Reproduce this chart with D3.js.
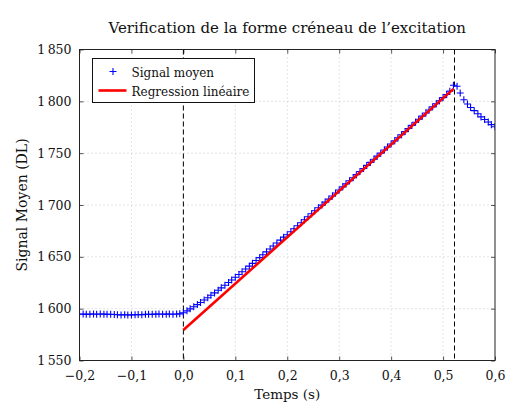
<!DOCTYPE html>
<html>
<head>
<meta charset="utf-8">
<script src="https://cdn.jsdelivr.net/npm/d3@7"></script>
<style>
    body { margin: 0; background: #ffffff; }
    svg text { font-family: "DejaVu Serif", serif; fill: #111111; }
</style>
</head>
<body>
<div id="chart"></div>
<script>
// Temps (s)
const temps = [
    -0.200, -0.193, -0.187, -0.180, -0.173, -0.167, -0.160, -0.153, -0.147, -0.140,
    -0.133, -0.127, -0.120, -0.113, -0.107, -0.100, -0.093, -0.087, -0.080, -0.073,
    -0.067, -0.060, -0.053, -0.047, -0.040, -0.033, -0.027, -0.020, -0.013, -0.007,
    0.000, 0.007, 0.013, 0.020, 0.027, 0.033, 0.040, 0.047, 0.053, 0.060,
    0.067, 0.073, 0.080, 0.087, 0.093, 0.100, 0.107, 0.113, 0.120, 0.127,
    0.133, 0.140, 0.147, 0.153, 0.160, 0.167, 0.173, 0.180, 0.187, 0.193,
    0.200, 0.207, 0.213, 0.220, 0.227, 0.233, 0.240, 0.247, 0.253, 0.260,
    0.267, 0.273, 0.280, 0.287, 0.293, 0.300, 0.307, 0.313, 0.320, 0.327,
    0.333, 0.340, 0.347, 0.353, 0.360, 0.367, 0.373, 0.380, 0.387, 0.393,
    0.400, 0.407, 0.413, 0.420, 0.427, 0.433, 0.440, 0.447, 0.453, 0.460,
    0.467, 0.473, 0.480, 0.487, 0.493, 0.500, 0.507, 0.513, 0.520, 0.527,
    0.533, 0.540, 0.547, 0.553, 0.560, 0.567, 0.573, 0.580, 0.587, 0.593,
    0.600
];

// Signal moyen (DL)
const signalMoyen = [
    1594.6, 1594.8, 1594.5, 1594.7, 1594.9, 1594.6, 1594.8, 1594.7, 1594.5, 1594.6,
    1594.4, 1594.1, 1594.0, 1594.2, 1593.9, 1594.0, 1594.1, 1594.3, 1594.2, 1594.5,
    1594.6, 1594.5, 1594.7, 1594.8, 1594.6, 1594.7, 1594.8, 1594.6, 1594.9, 1595.0,
    1596.0, 1597.9, 1599.8, 1601.8, 1603.9, 1606.0, 1608.3, 1610.5, 1612.9, 1615.2,
    1617.7, 1620.1, 1622.6, 1625.2, 1627.7, 1630.3, 1633.0, 1635.6, 1638.3, 1641.0,
    1643.7, 1646.5, 1649.2, 1652.0, 1654.8, 1657.6, 1660.4, 1663.3, 1666.1, 1669.0,
    1671.3, 1674.2, 1677.1, 1680.0, 1682.9, 1685.8, 1688.7, 1691.6, 1694.5, 1697.4,
    1699.9, 1702.8, 1705.7, 1708.7, 1711.6, 1714.5, 1717.5, 1720.4, 1723.4, 1726.3,
    1729.3, 1732.3, 1735.2, 1738.2, 1741.1, 1744.1, 1747.1, 1750.0, 1753.0, 1756.0,
    1758.9, 1761.9, 1764.9, 1767.8, 1770.8, 1773.8, 1776.8, 1779.8, 1782.7, 1785.7,
    1788.7, 1791.7, 1794.7, 1797.6, 1800.6, 1803.6, 1806.6, 1809.8, 1815.5, 1814.5,
    1808.0, 1801.5, 1797.5, 1794.0, 1791.0, 1788.0, 1785.0, 1782.5, 1780.0, 1777.5,
    1775.5
];

// Regression lineaire (extremites)
const regT = [0, 0.52];
const regV = [1579.5, 1812.0];

// Bornes du creneau
const bornes = [0, 0.522];

const xTicks = [-0.2, -0.1, 0, 0.1, 0.2, 0.3, 0.4, 0.5, 0.6];
const yTicks = [1550, 1600, 1650, 1700, 1750, 1800, 1850];

const width = 508, height = 405;
const margin = {top: 49.5, right: 13, bottom: 44.5, left: 79.5};

const svg = d3.select("#chart").append("svg")
    .attr("width", width)
    .attr("height", height);

const x = d3.scaleLinear()
    .domain([-0.2, 0.6])
    .range([margin.left, width - margin.right]);
const y = d3.scaleLinear()
    .domain([1550, 1850])
    .range([height - margin.bottom, margin.top]);

const fmtX = d => d3.format(".1f")(d).replace(".", ",").replace("-", "\u2212");
const fmtY = d => {
    const s = String(d);
    return s.slice(0, 1) + "\u2009" + s.slice(1);
};

// Grille pointillee
const grid = svg.append("g");
grid.selectAll(".gx")
    .data(xTicks.slice(1, -1))
    .join("line")
    .attr("x1", d => x(d)).attr("x2", d => x(d))
    .attr("y1", y(1850)).attr("y2", y(1550))
    .attr("stroke", "#c8c8c8")
    .attr("stroke-dasharray", "1,3");
grid.selectAll(".gy")
    .data(yTicks.slice(1, -1))
    .join("line")
    .attr("y1", d => y(d)).attr("y2", d => y(d))
    .attr("x1", x(-0.2)).attr("x2", x(0.6))
    .attr("stroke", "#c8c8c8")
    .attr("stroke-dasharray", "1,3");

// Axes (ticks vers l'interieur)
const axB = svg.append("g")
    .attr("transform", `translate(0,${y(1550)})`)
    .call(d3.axisBottom(x).tickValues(xTicks).tickSizeInner(-4).tickSizeOuter(0).tickPadding(8).tickFormat(fmtX));
const axT = svg.append("g")
    .attr("transform", `translate(0,${y(1850)})`)
    .call(d3.axisTop(x).tickValues(xTicks).tickSizeInner(-4).tickSizeOuter(0).tickFormat(""));
const axL = svg.append("g")
    .attr("transform", `translate(${x(-0.2)},0)`)
    .call(d3.axisLeft(y).tickValues(yTicks).tickSizeInner(-4).tickSizeOuter(0).tickPadding(8).tickFormat(fmtY));
const axR = svg.append("g")
    .attr("transform", `translate(${x(0.6)},0)`)
    .call(d3.axisRight(y).tickValues(yTicks).tickSizeInner(-4).tickSizeOuter(0).tickFormat(""));

for (const ax of [axB, axT, axL, axR]) {
    ax.select(".domain").remove();
    ax.selectAll(".tick line").attr("stroke", "#555555");
    ax.selectAll("text")
        .attr("font-family", "DejaVu Serif")
        .attr("font-size", 12.5)
        .attr("fill", "#111111");
}
axB.selectAll("text").attr("dy", "0.9em");

// Lignes pointillees verticales
svg.append("g").selectAll("line")
    .data(bornes)
    .join("line")
    .attr("x1", d => x(d)).attr("x2", d => x(d))
    .attr("y1", y(1850)).attr("y2", y(1550))
    .attr("stroke", "#000000")
    .attr("stroke-width", 1)
    .attr("stroke-dasharray", "5,3");

// Signal moyen (marqueurs +)
const pts = temps.map((t, i) => [t, signalMoyen[i]]);
const clip = svg.append("clipPath").attr("id", "clip")
    .append("rect")
    .attr("x", x(-0.2)).attr("y", y(1850))
    .attr("width", x(0.6) - x(-0.2)).attr("height", y(1550) - y(1850));
const plot = svg.append("g").attr("clip-path", "url(#clip)");
plot.selectAll(".mk")
    .data(pts)
    .join("path")
    .attr("d", d => `M${x(d[0]) - 3.5},${y(d[1])}h7M${x(d[0])},${y(d[1]) - 3.5}v7`)
    .attr("stroke", "#0000ff")
    .attr("stroke-width", 1.1)
    .attr("fill", "none");

// Regression lineaire
plot.append("path")
    .datum(regT.map((t, i) => [t, regV[i]]))
    .attr("d", d3.line().x(d => x(d[0])).y(d => y(d[1])))
    .attr("stroke", "#ff0000")
    .attr("stroke-width", 2.6)
    .attr("fill", "none");

// Cadre
svg.append("rect")
    .attr("x", x(-0.2)).attr("y", y(1850))
    .attr("width", x(0.6) - x(-0.2)).attr("height", y(1550) - y(1850))
    .attr("fill", "none")
    .attr("stroke", "#222222")
    .attr("stroke-width", 1);

// Titre et labels
svg.append("text")
    .attr("x", (x(-0.2) + x(0.6)) / 2)
    .attr("y", 33)
    .attr("text-anchor", "middle")
    .attr("font-size", 15)
    .text("Verification de la forme créneau de l’excitation");
svg.append("text")
    .attr("x", (x(-0.2) + x(0.6)) / 2)
    .attr("y", 399)
    .attr("text-anchor", "middle")
    .attr("font-size", 13.5)
    .text("Temps (s)");
svg.append("text")
    .attr("transform", `translate(27,${(y(1550) + y(1850)) / 2}) rotate(-90)`)
    .attr("text-anchor", "middle")
    .attr("font-size", 14)
    .text("Signal Moyen (DL)");

// Legende
const leg = svg.append("g").attr("transform", "translate(92.5,58.5)");
leg.append("rect")
    .attr("width", 162).attr("height", 44)
    .attr("fill", "#ffffff")
    .attr("stroke", "#111111")
    .attr("stroke-width", 1);
leg.append("path")
    .attr("d", "M17,13h7M20.5,9.5v7")
    .attr("stroke", "#0000ff")
    .attr("stroke-width", 1.1);
leg.append("line")
    .attr("x1", 6).attr("x2", 34)
    .attr("y1", 32).attr("y2", 32)
    .attr("stroke", "#ff0000")
    .attr("stroke-width", 2.6);
leg.append("text")
    .attr("x", 39).attr("y", 18)
    .attr("font-size", 12)
    .text("Signal moyen");
leg.append("text")
    .attr("x", 39).attr("y", 37)
    .attr("font-size", 12)
    .text("Regression linéaire");
</script>
</body>
</html>
